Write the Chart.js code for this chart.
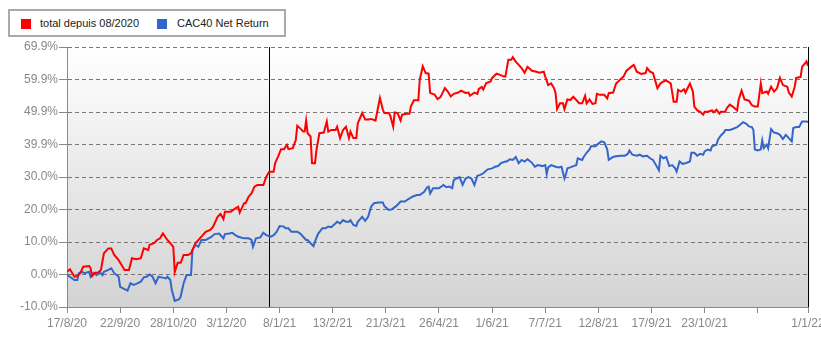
<!DOCTYPE html>
<html>
<head>
<meta charset="utf-8">
<script src="https://cdn.jsdelivr.net/npm/chart.js@4.4.0/dist/chart.umd.min.js"></script>
<style>
  body { margin: 0; background: #fff; }
  #wrap { position: relative; width: 821px; height: 350px; }
  #legend {
    position: absolute; left: 8px; top: 9px; width: 278px; height: 28px;
    box-sizing: border-box; border: 2px solid #aaa; background: #fff;
    font: 11px "Liberation Sans", Arial, sans-serif; color: #222;
  }
  #legend .sq { position: absolute; top: 8px; width: 10px; height: 10px; }
  #legend .lbl { position: absolute; top: 6px; line-height: 13px; white-space: nowrap; }
</style>
</head>
<body>
<div id="wrap">
  <canvas id="myChart"></canvas>
  <div id="legend">
    <span class="sq" style="left:11px;background:#ff0000"></span>
    <span class="lbl" style="left:30px">total depuis 08/2020</span>
    <span class="sq" style="left:147px;background:#3366cc"></span>
    <span class="lbl" style="left:167px">CAC40 Net Return</span>
  </div>
</div>
<script>
// x values are days since 17/8/2020
const redDays = [0,2,5,7,9,11,15,16,17,19,21,23,25,28,30,32,35,37,39,42,44,47,50,52,55,56,59,61,63,65,68,70,72,73,75,77,79,82,84,87,90,94,97,99,102,104,106,107,111,114,116,117,120,121,123,125,127,129,133,135,137,140,141,143,145,147,149,150,153,155,156,158,160,161,162,163,165,166,168,169,171,174,176,177,179,182,183,185,187,189,191,192,194,196,197,200,202,204,206,209,210,212,214,215,218,219,221,222,224,226,227,230,232,233,235,238,239,240,241,243,245,246,249,251,253,256,258,260,262,265,267,270,272,273,276,278,279,281,282,284,287,288,291,293,296,297,299,301,302,304,306,308,310,312,315,318,320,323,324,326,328,330,331,332,334,336,337,339,341,343,345,347,349,351,352,354,356,358,359,361,364,366,367,370,372,375,377,379,383,384,386,389,392,393,395,397,400,402,404,406,409,411,413,414,416,418,419,422,424,425,427,429,431,432,434,437,438,440,442,443,446,447,449,451,454,455,457,459,462,464,466,468,470,471,474,475,477,479,481,483,485,488,489,491,493,494,497,498,501,502];
const redValues = [0.8,1.6,-0.7,-0.5,0.4,2.4,2.6,1.9,-0.5,0.5,0.5,1.4,6.5,8.0,8.0,6.0,4.4,2.9,1.4,1.4,5.0,4.7,5.0,8.0,7.5,9.1,9.6,10.6,11.1,12.6,10.6,9.6,8.5,0.8,3.6,3.6,6.0,6.0,6.5,9.6,11.1,13.1,13.7,14.7,17.7,18.6,17.0,19.3,19.3,20.3,20.8,19.0,21.9,21.9,23.9,24.9,27.0,27.5,27.5,30.0,31.6,31.6,34.2,36.2,38.5,38.5,39.8,38.5,38.8,41.3,45.7,44.9,43.9,43.9,47.3,43.4,42.4,34.2,34.2,38.3,43.4,43.6,47.0,43.9,44.4,44.4,45.4,41.9,44.4,45.4,41.9,43.9,41.9,41.9,46.5,49.6,47.6,47.6,47.8,47.3,49.6,54.2,50.6,49.6,49.6,48.8,45.4,49.8,49.6,47.3,49.1,49.4,49.4,51.7,53.5,53.5,59.9,61.9,64.0,61.9,61.7,55.8,55.3,53.9,54.5,57.3,56.2,54.7,55.5,55.9,56.5,55.8,55.9,54.9,55.9,55.5,57.0,57.6,56.8,58.8,59.3,60.4,61.7,61.4,60.8,60.8,66.0,66.0,66.8,65.4,64.4,63.4,62.0,63.8,62.6,62.3,62.0,62.3,60.8,58.2,58.7,57.2,55.7,50.8,52.6,52.6,50.8,53.8,53.6,54.6,53.6,52.6,52.6,54.9,52.6,53.8,52.4,52.6,55.5,55.2,55.2,54.1,55.7,55.9,58.7,60.0,60.8,62.6,64.1,64.4,62.3,61.6,61.9,63.4,62.3,61.9,57.2,58.7,59.3,59.6,58.7,53.1,53.1,56.7,56.2,56.9,55.9,58.7,56.2,51.6,50.4,50.0,49.1,50.0,50.0,50.4,49.8,50.6,49.4,50.0,50.0,51.1,52.2,51.6,50.4,53.6,56.5,53.8,53.4,52.0,51.6,51.6,58.7,55.7,56.2,55.5,57.7,56.2,57.2,60.4,58.2,57.7,55.9,54.7,57.7,60.4,60.7,63.8,65.5,64.1];

const blueDays = [0,2,5,7,8,10,12,15,16,18,20,22,24,25,28,30,32,35,36,38,41,43,45,47,50,52,54,56,58,60,62,64,67,68,70,71,73,76,77,79,81,84,85,87,89,91,94,96,98,100,103,105,106,107,110,112,114,116,120,123,125,126,128,131,133,135,138,140,142,144,147,148,150,152,156,158,160,162,163,165,167,168,170,173,175,177,179,182,183,185,187,189,191,192,194,196,197,200,202,204,206,208,211,214,215,218,220,223,226,229,231,234,237,239,242,244,245,246,248,252,255,257,259,261,262,264,266,268,270,272,274,276,278,280,282,285,288,290,292,294,297,298,300,302,304,306,308,310,312,315,317,319,322,324,325,326,328,331,333,335,337,338,339,341,343,345,346,349,350,352,354,355,358,360,362,364,366,367,370,372,375,378,380,381,383,386,388,390,393,395,397,399,401,402,404,406,408,410,412,413,415,417,419,422,423,425,427,429,431,432,434,436,437,440,441,443,445,446,449,451,454,456,458,460,462,464,465,466,468,470,471,472,474,475,477,479,481,483,485,487,489,491,492,494,496,498,501,502];
const blueValues = [-0.2,-0.7,-1.7,-1.7,0.4,0.8,0.4,0.8,-0.7,0.5,-0.2,0.8,-0.2,0.8,1.4,1.9,0.4,-0.7,-3.8,-4.3,-5.0,-2.7,-3.2,-2.9,-2.2,-0.9,-0.7,0.0,-0.7,-2.7,-0.7,-0.9,-1.2,-0.7,-1.7,-4.8,-8.1,-7.6,-6.8,-2.7,-0.2,-0.2,7.5,9.1,8.5,10.6,10.6,11.1,11.6,12.4,12.6,11.6,11.1,12.4,12.6,12.8,12.1,11.6,11.1,11.1,10.6,8.5,11.1,11.4,12.8,12.1,11.6,12.1,13.1,14.9,14.7,14.2,14.2,13.1,13.1,12.6,11.6,10.6,10.6,9.6,8.7,10.1,12.4,14.2,14.2,14.7,14.5,15.7,16.2,15.7,16.7,16.2,16.2,16.7,15.2,14.9,16.2,17.7,16.5,17.7,20.8,21.9,22.1,22.1,21.0,19.8,20.0,21.0,22.4,22.4,23.1,23.9,24.4,24.4,25.4,26.8,27.0,24.9,26.5,26.5,27.5,26.8,27.0,26.5,29.0,29.5,29.9,27.5,29.5,29.9,29.5,27.5,30.3,30.6,31.1,32.3,32.6,33.1,33.3,34.2,34.7,34.7,35.4,35.2,36.1,34.2,35.2,34.7,35.4,34.3,33.1,33.6,33.3,33.6,30.8,32.9,33.6,33.1,32.9,33.1,29.5,30.8,32.6,32.9,33.3,33.6,35.7,35.2,36.1,37.4,38.4,39.4,39.4,40.2,40.9,40.6,38.4,35.2,36.1,36.3,36.5,36.5,37.1,38.1,36.8,36.5,36.8,36.3,36.5,35.7,35.2,33.6,32.0,36.5,35.7,36.1,33.3,33.6,32.6,31.6,34.7,34.0,34.2,34.7,37.4,37.4,36.5,37.1,36.8,37.8,38.4,38.1,39.4,39.9,41.4,42.7,43.6,44.4,44.4,44.7,45.3,46.0,46.8,46.4,45.5,45.3,44.4,38.4,38.1,38.4,41.2,38.8,39.9,38.8,44.7,43.6,43.4,42.9,41.6,42.9,41.9,40.9,45.0,45.3,45.3,47.0,47.0,46.8];

const xTickDays = [0,36,72,108,144,180,216,252,288,324,360,396,432,468,502];
const xTickLabels = ['17/8/20','22/9/20','28/10/20','3/12/20','8/1/21','13/2/21','21/3/21','26/4/21','1/6/21','7/7/21','12/8/21','17/9/21','23/10/21','','1/1/22'];
const yTickLabels = ['-10.0%','0.0%','10.0%','20.0%','30.0%','39.9%','49.9%','59.9%','69.9%'];
const yearStarts = [137, 502]; // 1/1/21 and 1/1/22

const yMin = -10, yMax = 69.9;

function toPoints(days, values) {
  return days.map((d, i) => ({ x: d, y: values[i] }));
}

// fond dégradé de la zone du graphique
const plotBackground = {
  id: 'plotBackground',
  beforeDraw(chart) {
    const { ctx, chartArea: a } = chart;
    const g = ctx.createLinearGradient(0, a.top, 0, a.bottom);
    g.addColorStop(0, '#ffffff');
    g.addColorStop(1, '#d3d3d3');
    ctx.save();
    ctx.fillStyle = g;
    ctx.fillRect(a.left, a.top, a.right - a.left, a.bottom - a.top);
    ctx.restore();
  }
};

// traits verticaux noirs au changement d'année
const yearLines = {
  id: 'yearLines',
  beforeDatasetsDraw(chart) {
    const { ctx, chartArea: a, scales: { x } } = chart;
    ctx.save();
    ctx.strokeStyle = '#000';
    ctx.lineWidth = 1;
    yearStarts.forEach(d => {
      const px = Math.round(x.getPixelForValue(d)) + 0.5;
      ctx.beginPath();
      ctx.moveTo(px, a.top);
      ctx.lineTo(px, a.bottom);
      ctx.stroke();
    });
    ctx.restore();
  }
};

const tickFont = { family: '"Liberation Sans", Arial, sans-serif', size: 12 };

const ctx = document.getElementById('myChart').getContext('2d');
const myChart = new Chart(ctx, {
  type: 'line',
  data: {
    datasets: [{
      label: 'total depuis 08/2020',
      data: toPoints(redDays, redValues),
      borderColor: '#ff0000',
      borderWidth: 2,
      pointRadius: 0,
      tension: 0
    }, {
      label: 'CAC40 Net Return',
      data: toPoints(blueDays, blueValues),
      borderColor: '#3366cc',
      borderWidth: 2,
      pointRadius: 0,
      tension: 0
    }]
  },
  options: {
    responsive: true,
    maintainAspectRatio: false,
    animation: false,
    layout: { padding: { top: 47, right: 13, left: 0, bottom: 0 } },
    plugins: {
      legend: { display: false },
      tooltip: { enabled: false }
    },
    scales: {
      x: {
        type: 'linear',
        min: 0,
        max: 502,
        afterBuildTicks: s => { s.ticks = xTickDays.map(v => ({ value: v })); },
        afterFit: s => { s.height = 43; s.paddingLeft = 0; s.paddingRight = 0; },
        ticks: {
          autoSkip: false,
          maxRotation: 0,
          padding: 3,
          color: '#888',
          font: tickFont,
          callback: (v, i) => xTickLabels[i]
        },
        grid: { drawOnChartArea: false, tickLength: 6, color: '#888' },
        border: { color: '#888', width: 1 }
      },
      y: {
        min: yMin,
        max: yMax,
        afterBuildTicks: s => {
          const step = (yMax - yMin) / (yTickLabels.length - 1);
          s.ticks = yTickLabels.map((_, i) => ({ value: yMin + i * step }));
        },
        afterFit: s => { s.width = 67; s.paddingTop = 0; s.paddingBottom = 0; },
        ticks: {
          padding: 1,
          color: '#888',
          font: tickFont,
          callback: (v, i) => yTickLabels[i]
        },
        grid: { color: '#777', tickLength: 8, tickBorderDash: [], tickColor: '#888' },
        border: { color: '#888', width: 1, dash: [4, 3] }
      }
    }
  },
  plugins: [plotBackground, yearLines]
});
</script>
</body>
</html>
